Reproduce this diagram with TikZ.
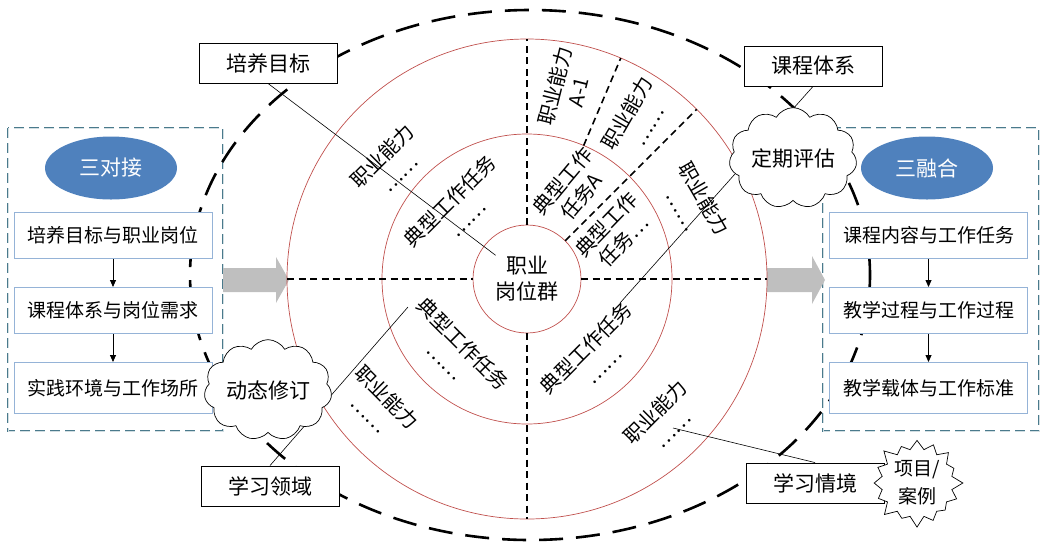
\documentclass[tikz,border=0pt]{standalone}
\usepackage{fontspec}
\setmainfont{Noto Sans CJK SC}
\usepackage{xcolor}
\usepackage{tikz}
\usetikzlibrary{positioning, arrows.meta, calc, shapes.geometric, shapes.symbols}
\definecolor{ringred}{HTML}{C0504D}
\definecolor{headblue}{HTML}{4F81BD}
\definecolor{boxblue}{HTML}{95B3D7}
\definecolor{panelteal}{HTML}{4A7A8C}
\definecolor{flowgray}{HTML}{BFBFBF}

\tikzset{
  ring/.style={draw=ringred, line width=0.7pt},
  spoke/.style={line width=1.6pt, dash pattern=on 7pt off 4.5pt},
  bigdash/.style={line width=2.6pt, dash pattern=on 24pt off 13pt},
  panel/.style={draw=panelteal, line width=0.6pt, double=white!75!panelteal, double distance=0.9pt, dash pattern=on 10pt off 5pt},
  link/.style={draw=black, line width=0.6pt},
  flow/.style={-{Triangle[length=7pt, width=6pt]}, line width=0.8pt},
  labelbox/.style={draw=black, fill=white, line width=0.9pt, minimum width=138pt, minimum height=40pt, font=\fontsize{21}{24}\selectfont},
  stepbox/.style={draw=boxblue, fill=white, line width=1pt, minimum width=198pt, minimum height=46pt, font=\fontsize{19}{22}\selectfont},
  headell/.style={ellipse, fill=headblue, text=white, minimum width=132pt, minimum height=63pt, font=\fontsize{21}{24}\selectfont},
  lbl/.style={align=center, inner sep=1pt, font=\fontsize{20}{24}\selectfont},
  puff/.style={cloud, cloud puffs=11, cloud puff arc=120, aspect=1.4, draw, fill=white, line width=0.7pt, minimum width=122pt, minimum height=88pt, inner sep=0pt, font=\fontsize{21}{24}\selectfont},
  burst/.style={starburst, starburst points=16, starburst point height=12pt, draw, fill=white, line width=0.7pt, minimum width=95pt, minimum height=92pt, inner sep=0pt, align=center, font=\fontsize{19}{28}\selectfont},
}

\begin{document}
\begin{tikzpicture}[x=1pt, y=-1pt]
  \useasboundingbox (0,0) rectangle (1044,550);

  % side panels
  \draw[panel] (8,128) rectangle (223,431);
  \draw[panel] (823,128) rectangle (1039,431);

  % grey flow arrows
  \fill[flowgray] (223,268) -- (276,268) -- (276,257) -- (289,280) -- (276,303) -- (276,292) -- (223,292) -- cycle;
  \fill[flowgray] (767,268) -- (812,268) -- (812,256) -- (825,280) -- (812,304) -- (812,292) -- (767,292) -- cycle;

  % rings and spokes
  \coordinate (c) at (527,279);
  \draw[ring] (c) circle[radius=240];
  \draw[ring] (c) circle[radius=145];
  \draw[ring] (c) circle[radius=54];
  \draw[spoke] ($(c)+(-240,0)$) -- ($(c)+(-54,0)$);
  \draw[spoke] ($(c)+(54,0)$) -- ($(c)+(240,0)$);
  \draw[spoke] ($(c)+(0,-54)$) -- ($(c)+(0,-240)$);
  \draw[spoke] ($(c)+(0,54)$) -- ($(c)+(0,240)$);
  \draw[spoke] ($(c)+(-67:145)$) -- ($(c)+(-67:240)$);
  \draw[spoke] ($(c)+(-45:54)$) -- ($(c)+(-45:240)$);

  % outer dashed ellipse
  \draw[bigdash] (530,275) ellipse[x radius=340, y radius=265];

  % ring labels
  \node[lbl, font=\fontsize{21}{26}\selectfont] (grp) at (527,279) {职业\\岗位群};
  \node[lbl, rotate=45] (abUL) at (390,164) {职业能力\\……};
  \node[lbl, rotate=45] (tkUL) at (458,209) {典型工作任务\\……};
  \node[lbl, rotate=76] (abA) at (566,89) {职业能力\\A-1};
  \node[lbl, rotate=60] (abUR) at (637,119) {职业能力\\……};
  \node[lbl, rotate=50] (tkA) at (572,189) {典型工作\\任务A};
  \node[lbl, rotate=46] (tkUR) at (615,233) {典型工作\\任务…};
  \node[lbl, rotate=-60] (abR) at (694,204) {职业能力\\……};
  \node[lbl, rotate=-45] (tkLL) at (455,352) {典型工作任务\\……};
  \node[lbl, rotate=-45] (abLL) at (379,405) {职业能力\\……};
  \node[lbl, rotate=45] (tkLR) at (594,356) {典型工作任务\\……};
  \node[lbl, rotate=45] (abLR) at (663,420) {职业能力\\……};

  % label boxes
  \node[labelbox] (pymb) at (268,63) {培养目标};
  \node[labelbox] (kctx) at (813,66) {课程体系};
  \node[labelbox] (xxly) at (270,486) {学习领域};
  \node[labelbox] (xxqj) at (815,483) {学习情境};

  \coordinate (kctxend) at (620,303);
  \coordinate (xxlyend) at (408,307);
  \coordinate (xxqjend) at (673,428);
  \draw[link] (pymb.south) -- (grp);
  \draw[link] (kctx.south) -- (kctxend);
  \draw[link] (xxly.north) -- (xxlyend);
  \draw[link] (xxqj.north) -- (xxqjend);

  % left panel
  \node[headell] (sdj) at (111,168) {三对接};
  \node[stepbox] (l1) at (113,235.5) {培养目标与职业岗位};
  \node[stepbox, below=28pt of l1] (l2) {课程体系与岗位需求};
  \node[stepbox, below=28pt of l2, minimum height=51pt] (l3) {实践环境与工作场所};
  \draw[flow] (l1) -- (l2);
  \draw[flow] (l2) -- (l3);

  % right panel
  \node[headell] (srh) at (927,168) {三融合};
  \node[stepbox] (r1) at (928.5,235.5) {课程内容与工作任务};
  \node[stepbox, below=28pt of r1] (r2) {教学过程与工作过程};
  \node[stepbox, below=28pt of r2, minimum height=51pt] (r3) {教学载体与工作标准};
  \draw[flow] (r1) -- (r2);
  \draw[flow] (r2) -- (r3);

  % clouds and burst
  \node[puff] (dqpg) at (793,158) {定期评估};
  \node[puff, minimum height=94pt] (dtxd) at (268,390) {动态修订};
  \node[burst] (xmal) at (917,483) {项目/\\案例};
\end{tikzpicture}
\end{document}
